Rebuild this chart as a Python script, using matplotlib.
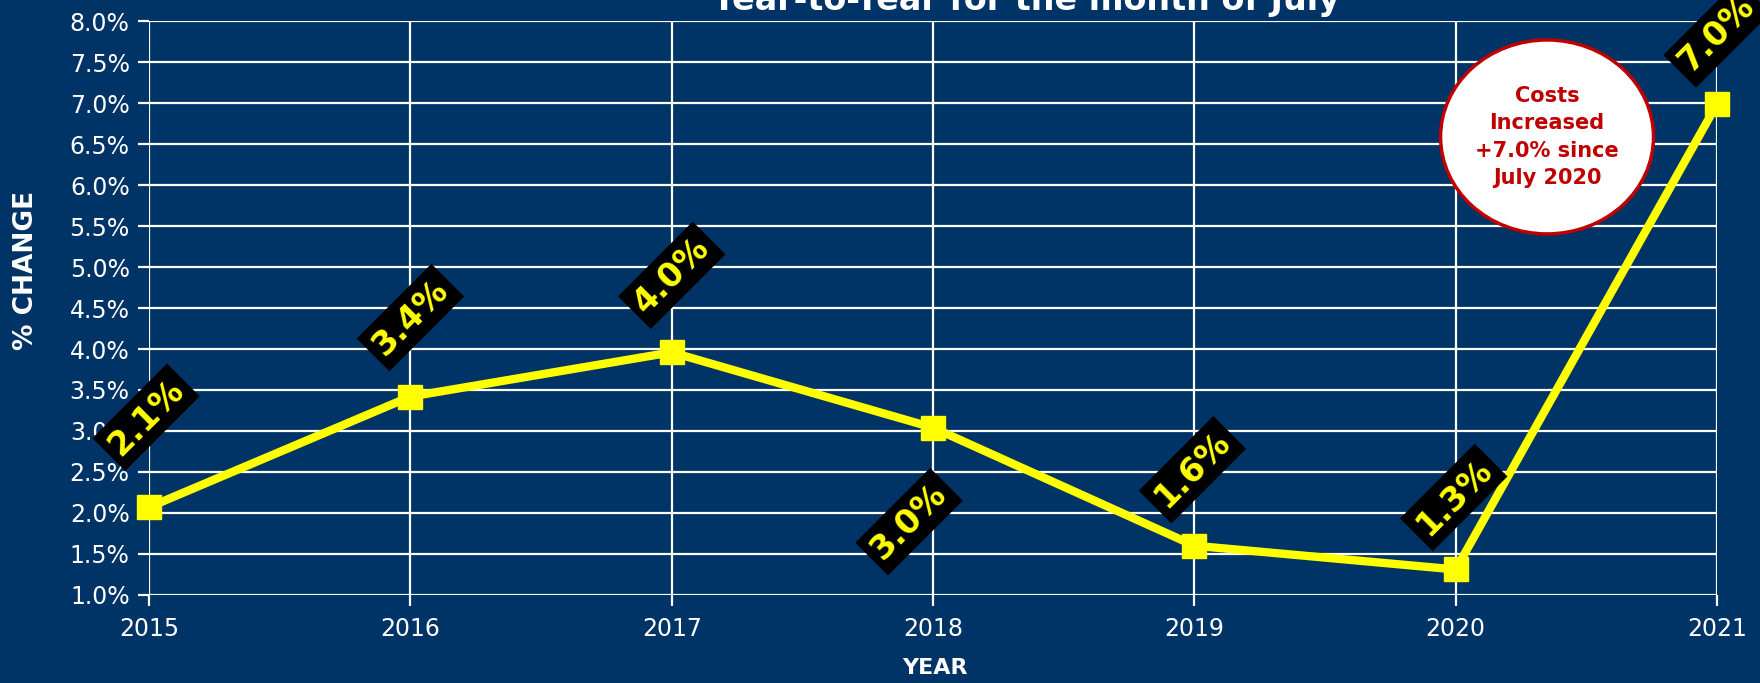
import matplotlib
matplotlib.use("Agg")
import matplotlib.pyplot as plt
from matplotlib.patches import Ellipse
from matplotlib.ticker import MultipleLocator, FuncFormatter

# ── colours ───────────────────────────────────────────────────────────────────
C_BG     = "#003366"
C_LINE   = "#FFFF00"
C_GRID   = "#FFFFFF"
C_RED    = "#C00000"

# ── data ──────────────────────────────────────────────────────────────────────
years   = [2015, 2016, 2017, 2018, 2019, 2020, 2021]
pct     = [2.07, 3.42, 3.96, 3.04, 1.60, 1.31, 6.99]
# label offsets (pixels) relative to each point
lab_dx  = [-3, 0, 0, -24, -2, -2, 0]
lab_dy  = [90, 79, 77, -94, 76, 72, 70]

fig = plt.figure(figsize=(17.6, 6.83), dpi=100)
fig.patch.set_facecolor(C_BG)
ax = fig.add_axes([0.0847, 0.129, 0.8909, 0.840])
ax.set_facecolor(C_BG)

ax.plot(years, pct, color=C_LINE, lw=6, marker="s", markersize=17,
        zorder=3, clip_on=False)

ax.set_xlim(2015, 2021)
ax.set_ylim(1.0, 8.0)
ax.yaxis.set_major_locator(MultipleLocator(0.5))
ax.yaxis.set_major_formatter(FuncFormatter(lambda v, p: f"{v:.1f}%"))
ax.set_xticks(years)
ax.grid(True, color=C_GRID, lw=1.6, zorder=1)
for s in ax.spines.values():
    s.set_visible(False)
ax.tick_params(colors=C_GRID, labelcolor="white", labelsize=17,
               length=8, width=1.6)
ax.tick_params(axis="x", pad=8)
ax.tick_params(axis="y", pad=6)

for x, y, dx, dy in zip(years, pct, lab_dx, lab_dy):
    ax.annotate(f"{y:.1f}%", xy=(x, y), xytext=(dx, dy),
                textcoords="offset pixels", ha="center", va="center",
                rotation=45, rotation_mode="anchor",
                fontsize=24, fontweight="bold", color=C_LINE, zorder=5,
                bbox=dict(boxstyle="square,pad=0.2", fc="black", ec="none"),
                annotation_clip=False)

ax.set_ylabel("% CHANGE", fontsize=19, fontweight="bold", color="white")
ax.yaxis.set_label_coords(-0.0705, 0.566)
fig.text(0.531, 0.022, "YEAR", ha="center", va="center",
         fontsize=16, fontweight="bold", color="white")

fig.text(0.583, 0.986, "Year-to-Year for the month of July", ha="center",
         va="baseline", fontsize=24, fontweight="bold", color="white")

# ── callout bubble ────────────────────────────────────────────────────────────
circ = Ellipse((0.879, 0.7995), 0.121, 0.284, transform=fig.transFigure,
               fc="white", ec=C_RED, lw=2.5, zorder=6)
fig.add_artist(circ)
fig.text(0.879, 0.7995, "Costs\nIncreased\n+7.0% since\nJuly 2020",
         ha="center", va="center", fontsize=15, fontweight="bold",
         color=C_RED, linespacing=1.45, zorder=7)

fig.savefig("out.png", dpi=100, facecolor=fig.get_facecolor())
